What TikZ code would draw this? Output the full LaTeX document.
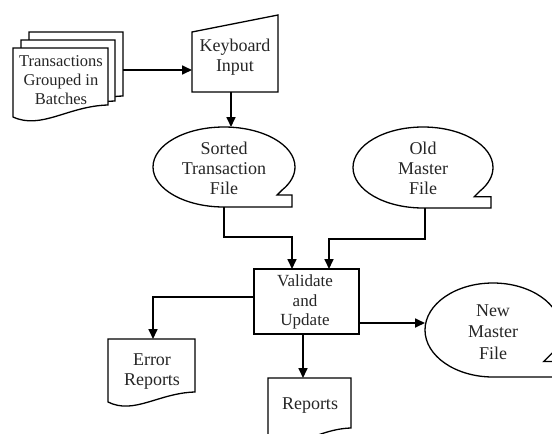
\documentclass[tikz,border=0pt]{standalone}
\usepackage{fontspec}
\setmainfont{Liberation Serif}
\usetikzlibrary{arrows.meta}
% document shape: L T R Bright Bleft
\newcommand\docshape[5]{%
  \path[shp] (#1,#2) -- (#3,#2) -- (#3,#4)
    .. controls ({#3-0.42*(#3-#1)},{#4+1}) and ({#1+0.3*(#3-#1)},{#5+13}) .. (#1,#5) -- cycle;}
% tape shape: cx cy rx ry angle tailx diag
\newcommand\tapeshape[7]{%
  \path[shp] (#1,{#2+#4}) arc[start angle=270, end angle=-#5, x radius=#3pt, y radius=#4pt]
    -- ++(-#7,#7) -- (#6,{#2+#4*sin(#5)+#7}) -- (#6,{#2+#4}) -- cycle;}
\begin{document}
\begin{tikzpicture}[x=1pt,y=-1pt,
  shp/.style={draw=black, line width=1.3pt, fill=white, line join=miter},
  conn/.style={draw=black, line width=1.7pt, -{Triangle[length=10pt,width=9pt]}},
  lbl/.style={align=center, inner sep=0pt, text=black!85, font=\fontsize{18}{20}\selectfont},
]
\useasboundingbox (0,0) rectangle (552,434);
\clip (0,0) rectangle (552,434);

% transactions stack
\docshape{29}{32}{123}{96}{108}
\docshape{21}{40}{115}{101}{113}
\docshape{13}{48}{108}{105}{117}
\node[lbl, font=\fontsize{16.5}{19}\selectfont] (trans) at (61,80) {Transactions\\Grouped in\\Batches};

% keyboard input
\path[shp] (192,32) -- (278,15) -- (278,92) -- (192,92) -- cycle;
\node[lbl] (kbd) at (235,57) {Keyboard\\Input};

% tapes
\tapeshape{224}{167}{71}{40}{35}{292}{5}
\node[lbl] (sorted) at (224,168) {Sorted\\Transaction\\File};
\tapeshape{423}{167.5}{70}{40.5}{35}{491}{6}
\node[lbl] (old) at (423,168) {Old\\Master\\File};
\tapeshape{493}{330}{68}{47}{29.3}{565}{8.5}
\node[lbl, font=\fontsize{18}{21.5}\selectfont] (new) at (493,332) {New\\Master\\File};

% validate box
\node[shp, minimum width=105pt, minimum height=65pt, inner sep=0pt] (vbox) at (306.5,301.5) {};
\node[lbl, font=\fontsize{17}{19.5}\selectfont] (valid) at (305,302) {Validate\\and\\Update};

% reports
\docshape{108}{339}{195}{392}{402}
\node[lbl] (err) at (152,372) {Error\\Reports};
\docshape{268}{378}{351}{428}{440}
\node[lbl] (rep) at (310,406) {Reports};

% connector end points
\coordinate (stackR) at (123,70);
\coordinate (kbdL) at (192,70);
\coordinate (kbdB) at (231,92);
\coordinate (sortedT) at (231,127);
\coordinate (sortedB) at (224,207);
\coordinate (oldB) at (425,208);
\coordinate (vin1) at (292,269);
\coordinate (vin2) at (329,269);
\coordinate (voutL) at (254,297);
\coordinate (errT) at (153,339);
\coordinate (voutB) at (303,334);
\coordinate (repT) at (303,378);
\coordinate (voutR) at (359,323);
\coordinate (newL) at (425,323);

\draw[conn] (stackR) -- (kbdL);
\draw[conn] (kbdB) -- (sortedT);
\draw[conn] (sortedB) -- ++(0,30) -| (vin1);
\draw[conn] (oldB) -- ++(0,31) -| (vin2);
\draw[conn] (voutL) -| (errT);
\draw[conn] (voutB) -- (repT);
\draw[conn] (voutR) -- (newL);
\end{tikzpicture}
\end{document}
